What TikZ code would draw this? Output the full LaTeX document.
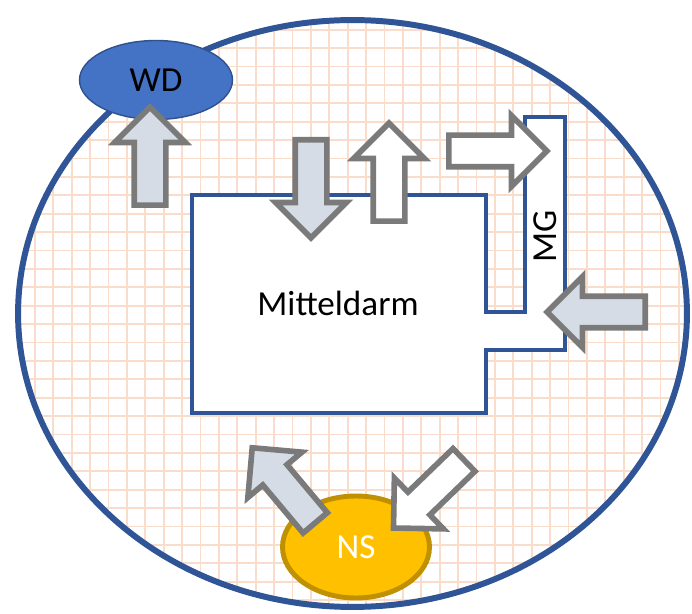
\documentclass[tikz,border=0pt]{standalone}
\usepackage{fontspec}
\setmainfont{Carlito}
\usetikzlibrary{shapes.geometric,shapes.arrows}
\definecolor{ringblue}{HTML}{2F5597}
\definecolor{wdblue}{HTML}{4472C4}
\definecolor{wdedge}{HTML}{2F528F}
\definecolor{nsgold}{HTML}{FFC000}
\definecolor{nsedge}{HTML}{BF9000}
\definecolor{gridpeach}{HTML}{F9DCCA}
\definecolor{arrgray}{HTML}{7A7A7A}
\definecolor{arrfill}{HTML}{D6DCE5}

\begin{document}
\begin{tikzpicture}[x=0.02cm, y=-0.02cm,
    gridline/.style={gridpeach, line width=1.1pt},
    organ/.style={draw=ringblue, line width=2pt, fill=white},
    bigfont/.style={font=\fontsize{20}{24}\selectfont},
    blockarr/.style={single arrow, draw=arrgray, line width=3.2pt,
        inner xsep=0pt, inner ysep=0.26cm, minimum height=1.96cm,
        single arrow head extend=0.39cm, anchor=tail},
    intake/.style={blockarr, fill=arrfill},
    outlet/.style={blockarr, fill=white}
]
    \useasboundingbox (0,0) rectangle (692,614);

    % body background with grid
    \begin{scope}
        \clip (352.5,313.5) ellipse [x radius=334.5, y radius=293.5];
        \fill[white] (0,0) rectangle (692,614);
        \foreach \gx in {16.5,34.9,...,692} \draw[gridline] (\gx,0) -- (\gx,614);
        \foreach \gy in {11.3,29.7,...,614} \draw[gridline] (0,\gy) -- (692,\gy);
    \end{scope}
    \node[ellipse, draw=ringblue, line width=3.4pt, inner sep=0pt,
        minimum width=13.38cm, minimum height=11.74cm] (body) at (352.5,313.5) {};

    % Mitteldarm with MG
    \draw[organ] (192,195) -- (486,195) -- (486,312) -- (525,312) -- (525,117)
        -- (565,117) -- (565,350) -- (486,350) -- (486,413) -- (192,413) -- cycle;
    \node[bigfont] (md) at (338,303) {Mitteldarm};
    \node[bigfont, rotate=90] (mg) at (545,236) {MG};

    \node[ellipse, fill=wdblue, draw=wdedge, line width=0.8pt, inner sep=0pt,
        minimum width=3.06cm, minimum height=1.58cm, bigfont] (wd) at (156,80) {WD};
    \node[ellipse, fill=nsgold, draw=nsedge, line width=2.8pt, inner sep=0pt,
        minimum width=2.94cm, minimum height=2.04cm, bigfont, text=white] (ns) at (356,547) {NS};

    % transport arrows, placed by their tails
    \node[intake, rotate=90] (toWD) at (150,208) {};
    \node[intake, rotate=-90] (feed) at (311,137) {};
    \node[outlet, rotate=90] (outMD) at (389,224) {};
    \node[outlet] (toMG) at (446,151) {};
    \node[intake, rotate=180] (inMG) at (648,312) {};
    \node[intake, rotate=130] (fromNS) at (317,525) {};
    \node[outlet, rotate=-136] (toNS) at (466,458) {};
\end{tikzpicture}
\end{document}
